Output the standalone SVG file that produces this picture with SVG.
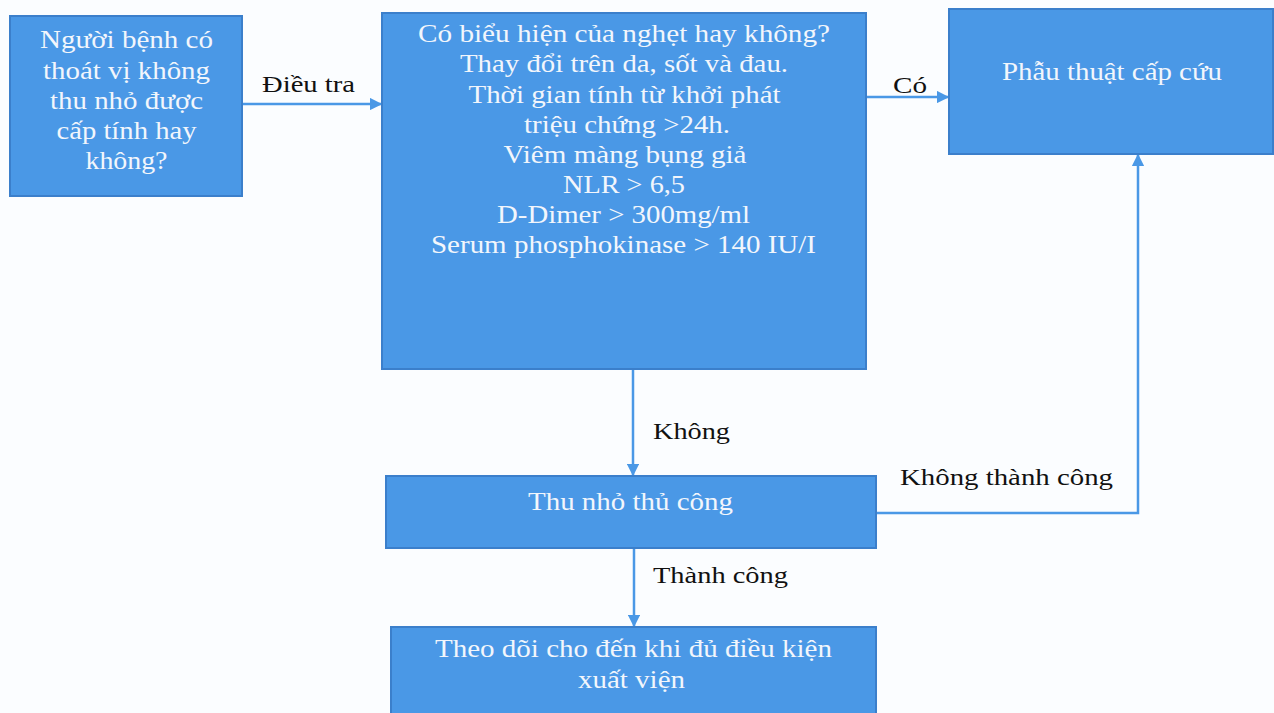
<svg xmlns="http://www.w3.org/2000/svg" width="1274" height="713" viewBox="0 0 1274 713">
<defs>
<style>
.box{fill:#4a98e6;stroke:#3b7fcb;stroke-width:2}
.bt{font-family:"Liberation Serif","Times New Roman",serif;font-size:25px;fill:#f2f6fc;text-anchor:middle}
.lb{font-family:"Liberation Serif","Times New Roman",serif;font-size:24px;fill:#111}
.cn{fill:none;stroke:#4a98e6;stroke-width:2.5}
</style>
<marker id="ah" viewBox="0 0 10 10" refX="9" refY="5" markerWidth="5" markerHeight="5" orient="auto" markerUnits="strokeWidth">
<path d="M0,0 L10,5 L0,10 z" fill="#4a98e6"/>
</marker>
</defs>
<rect width="1274" height="713" fill="#fbfdff"/>
<g id="connectors">
<line class="cn" x1="242" y1="104" x2="381" y2="104" marker-end="url(#ah)"/>
<line class="cn" x1="866" y1="97" x2="948" y2="97" marker-end="url(#ah)"/>
<line class="cn" x1="633" y1="369" x2="633" y2="475" marker-end="url(#ah)"/>
<polyline class="cn" points="876,513 1138,513 1138,155" marker-end="url(#ah)"/>
<line class="cn" x1="634" y1="548" x2="634" y2="626" marker-end="url(#ah)"/>
<text class="lb" x="262" y="92" textLength="93" lengthAdjust="spacingAndGlyphs">Điều tra</text>
<text class="lb" x="893" y="93" textLength="34" lengthAdjust="spacingAndGlyphs">Có</text>
<text class="lb" x="653" y="439" textLength="77" lengthAdjust="spacingAndGlyphs">Không</text>
<text class="lb" x="900" y="485" textLength="213" lengthAdjust="spacingAndGlyphs">Không thành công</text>
<text class="lb" x="653" y="583" textLength="135" lengthAdjust="spacingAndGlyphs">Thành công</text>
</g>
<g id="n1">
<rect class="box" x="10" y="16" width="232" height="180"/>
<text class="bt" x="126.5" y="48" textLength="173" lengthAdjust="spacingAndGlyphs">Người bệnh có</text>
<text class="bt" x="126.5" y="79" textLength="167" lengthAdjust="spacingAndGlyphs">thoát vị không</text>
<text class="bt" x="126.5" y="109" textLength="153" lengthAdjust="spacingAndGlyphs">thu nhỏ được</text>
<text class="bt" x="126.5" y="139" textLength="140" lengthAdjust="spacingAndGlyphs">cấp tính hay</text>
<text class="bt" x="126.5" y="169" textLength="82" lengthAdjust="spacingAndGlyphs">không?</text>
</g>
<g id="n2">
<rect class="box" x="382" y="13" width="484" height="356"/>
<text class="bt" x="624" y="42" textLength="412" lengthAdjust="spacingAndGlyphs">Có biểu hiện của nghẹt hay không?</text>
<text class="bt" x="624" y="72" textLength="328" lengthAdjust="spacingAndGlyphs">Thay đổi trên da, sốt và đau.</text>
<text class="bt" x="624.5" y="103" textLength="312" lengthAdjust="spacingAndGlyphs">Thời gian tính từ khởi phát</text>
<text class="bt" x="627" y="133" textLength="206" lengthAdjust="spacingAndGlyphs">triệu chứng &gt;24h.</text>
<text class="bt" x="625" y="163" textLength="243" lengthAdjust="spacingAndGlyphs">Viêm màng bụng giả</text>
<text class="bt" x="624" y="193" textLength="122" lengthAdjust="spacingAndGlyphs">NLR &gt; 6,5</text>
<text class="bt" x="623.5" y="223" textLength="253" lengthAdjust="spacingAndGlyphs">D-Dimer &gt; 300mg/ml</text>
<text class="bt" x="623.5" y="253" textLength="385" lengthAdjust="spacingAndGlyphs">Serum phosphokinase &gt; 140 IU/I</text>
</g>
<g id="n3">
<rect class="box" x="949" y="9" width="324" height="145"/>
<text class="bt" x="1112" y="80" textLength="220" lengthAdjust="spacingAndGlyphs">Phẫu thuật cấp cứu</text>
</g>
<g id="n4">
<rect class="box" x="386" y="476" width="490" height="72"/>
<text class="bt" x="630.5" y="510" textLength="205" lengthAdjust="spacingAndGlyphs">Thu nhỏ thủ công</text>
</g>
<g id="n5">
<rect class="box" x="391" y="627" width="485" height="90"/>
<text class="bt" x="633.5" y="657" textLength="397" lengthAdjust="spacingAndGlyphs">Theo dõi cho đến khi đủ điều kiện</text>
<text class="bt" x="631.5" y="688" textLength="107" lengthAdjust="spacingAndGlyphs">xuất viện</text>
</g>
</svg>
